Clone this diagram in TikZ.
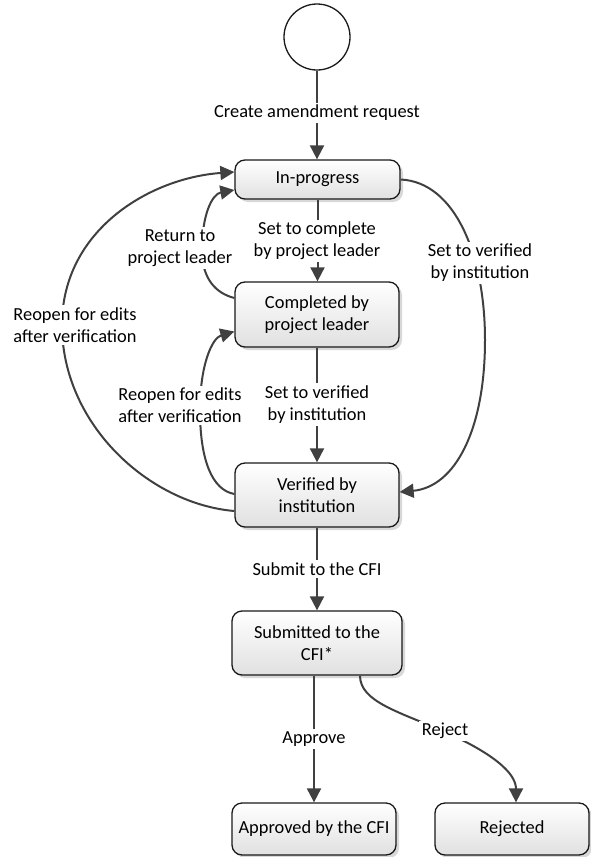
\documentclass[tikz,border=0pt]{standalone}
\usepackage{fontspec}
\setmainfont{Carlito}
\usetikzlibrary{arrows.meta,shadows}
\begin{document}
\begin{tikzpicture}[x=1pt,y=-1pt,
  font=\fontsize{18.4}{22}\selectfont,
  state/.style={draw=black!90, line width=1.3pt, rounded corners=10pt,
    top color=white, bottom color=black!12, align=center, inner sep=2pt,
    drop shadow={shadow xshift=3pt,shadow yshift=-3pt,fill=black!30,opacity=0.5}},
  tr/.style={draw=black!75, line width=2pt, -{Triangle[length=14pt,width=14pt]}},
  lab/.style={fill=white, align=center, inner sep=2.5pt}]
\useasboundingbox (0,0) rectangle (590,857);

% states
\node[circle, draw=black!90, line width=1.3pt, fill=white, minimum size=66pt, inner sep=0pt] (start) at (317,37) {};
\node[state, minimum width=165pt, minimum height=39pt] (ip) at (317.5,179.5) {In-progress};
\node[state, minimum width=164pt, minimum height=65pt] (cp) at (317,314.5) {Completed by\\project leader};
\node[state, minimum width=164pt, minimum height=64pt] (vb) at (317,495) {Verified by\\institution};
\node[state, minimum width=170pt, minimum height=64pt] (sb) at (317,643) {Submitted to the\\CFI*};
\node[state, minimum width=164pt, minimum height=52pt] (ap) at (314,829) {Approved by the CFI};
\node[state, minimum width=154pt, minimum height=52pt] (rj) at (512,829) {Rejected};

% transitions
\draw[tr] (start.south) -- (start.south |- ip.north);
\draw[tr] (ip.south) -- (ip.south |- cp.north);
\draw[tr] (cp.south) -- (cp.south |- vb.north);
\draw[tr] (vb.south) -- (vb.south |- sb.north);
\draw[tr] (ap.north |- sb.south) -- (ap.north);
\draw[tr] ([xshift=43pt]sb.south) .. controls (360,702) and (400,712) .. (445,732)
  .. controls (490,752) and (516,772) .. ([xshift=4pt]rj.north);
\draw[tr] (ip.east) .. controls (455,182) and (485,255) .. (485,340)
  .. controls (485,430) and (455,487) .. ([yshift=3pt]vb.east);
\draw[tr] ([yshift=16.5pt]cp.west) .. controls (215,293) and (202,278) .. (202,250)
  .. controls (202,215) and (212,194) .. ([yshift=-10.5pt]ip.west);
\draw[tr] ([yshift=1pt]vb.west) .. controls (212,490) and (200,460) .. (200,410)
  .. controls (200,365) and (212,338) .. ([yshift=-17pt]cp.west);
\draw[tr] ([yshift=-16pt]vb.west) .. controls (150,504) and (62,425) .. (62,325)
  .. controls (62,230) and (150,178) .. ([yshift=7.5pt]ip.west);

% labels
\node[lab] (l1) at (317,113) {Create amendment request};
\node[lab] (l2) at (317,241) {Set to complete\\by project leader};
\node[lab] (l3) at (317,404.5) {Set to verified\\by institution};
\node[lab] (l4) at (317,569) {Submit to the CFI};
\node[lab] (l5) at (314,739) {Approve};
\node[lab] (l6) at (445,731) {Reject};
\node[lab] (l7) at (480,263) {Set to verified\\by institution};
\node[lab] (l8) at (180,248) {Return to\\project leader};
\node[lab] (l9) at (180,405.5) {Reopen for edits\\after verification};
\node[lab] (l10) at (75,325) {Reopen for edits\\after verification};
\end{tikzpicture}
\end{document}
